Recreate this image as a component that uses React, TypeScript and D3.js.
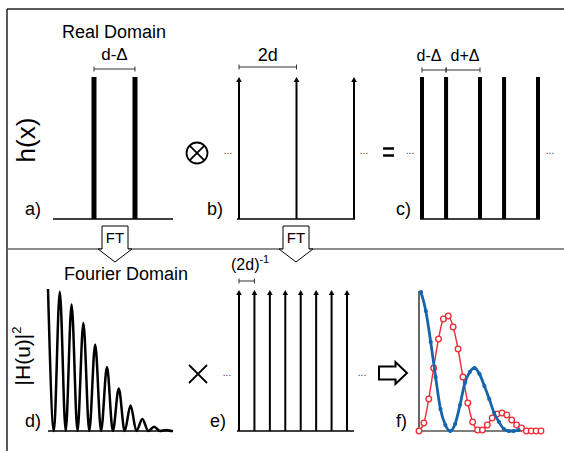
import React from 'react';
import * as d3 from 'd3';

// positions in units of d
const slitsA = [0, 0.83];
const combB = [0, 2, 4];
const latticeC = [0, 0.83, 2, 2.83, 4];
// reciprocal comb, units of (2d)^-1
const combE = [0, 1, 2, 3, 4, 5, 6, 7];
// |H(u)|^2 lobe maxima, one per lobe
const lobePeaks = [1, 0.98, 0.89, 0.76, 0.61, 0.45, 0.3, 0.18, 0.085, 0.03, 0.007];
// product intensities in f)
const blueF = [139, 120, 89, 54, 22, 6, 0, 7, 26, 48, 59, 63, 57, 45, 32, 18, 9, 2, 0, 0, 1];
const redF = [0, 8, 32, 63, 92, 112, 115, 104, 82, 54, 28, 9, 1, 1, 6, 13, 17, 18, 16, 11, 6, 3, 0, 0, 0, 0];

const FONT = 'Arial, "Liberation Sans", Helvetica, sans-serif';
const BLUE = '#1565ad';
const RED = '#ec2b34';

function Span({ x1, x2, y }: { x1: number; x2: number; y: number }) {
  return (
    <g stroke="#333" strokeWidth={1}>
      <line x1={x1} x2={x2} y1={y} y2={y} />
      <line x1={x1} x2={x1} y1={y - 2.5} y2={y + 2.5} />
      <line x1={x2} x2={x2} y1={y - 2.5} y2={y + 2.5} />
    </g>
  );
}

function Arrow({ x, top, bottom }: { x: number; top: number; bottom: number }) {
  return (
    <g>
      <line x1={x} x2={x} y1={top + 3} y2={bottom} stroke="#000" strokeWidth={2} />
      <path d={`M${x - 2.8},${top + 5}L${x},${top}L${x + 2.8},${top + 5}Z`} fill="#000" />
    </g>
  );
}

function FTArrow({ cx }: { cx: number }) {
  const p = [
    [cx - 13, 226], [cx + 13, 226], [cx + 13, 249], [cx + 17, 249],
    [cx, 262], [cx - 17, 249], [cx - 13, 249],
  ];
  return (
    <g>
      <polygon points={p.map((d) => d.join(',')).join(' ')} fill="#fff" stroke="#000" strokeWidth={1} />
      <text x={cx} y={243} textAnchor="middle" fontSize={15} fontFamily={FONT}>FT</text>
    </g>
  );
}

function Dots({ x, y }: { x: number; y: number }) {
  return (
    <text x={x} y={y} textAnchor="middle" fontSize={10} fill="#333" fontFamily={FONT}>...</text>
  );
}

export default function App() {
  const baseTop = 219;
  const baseBot = 431;

  const xa = d3.scaleLinear().domain([-0.83, 1.6]).range([53, 173]);
  const xb = d3.scaleLinear().domain([0, 4]).range([239, 354]);
  const xc = d3.scaleLinear().domain([0, 4]).range([422, 538]);
  const xe = d3.scaleLinear().domain([0, 7]).range([239, 347]);

  // panel d
  const xd = d3.scaleLinear().domain([0, 10.6]).range([48, 173]);
  const yd = d3.scaleLinear().domain([0, 1]).range([baseBot, 289]);
  const dPts: [number, number][] = [];
  lobePeaks.forEach((v, i) => {
    dPts.push([i, v]);
    dPts.push([i + 0.5, 0]);
  });
  dPts.push([10.6, 0]);
  const dLine = d3.line<[number, number]>()
    .x((d) => xd(d[0]))
    .y((d) => yd(d[1]))
    .curve(d3.curveMonotoneX);

  // panel f
  const xf = d3.scaleLinear().domain([0, 25]).range([419, 541]);
  const yf = d3.scaleLinear().domain([0, 140]).range([baseBot, 291]);
  const bluePts = blueF.map((v, i) => [i + 0.4, v] as [number, number]);
  const redPts = redF.map((v, i) => [i, v] as [number, number]);
  const fLine = d3.line<[number, number]>()
    .x((d) => xf(d[0]))
    .y((d) => yf(d[1]))
    .curve(d3.curveMonotoneX);

  return (
    <svg
      width={564}
      height={451}
      style={{ position: 'absolute', left: 0, top: 0, background: '#fff' }}
      fontFamily={FONT}
    >
      {/* frame */}
      <line x1={7} x2={564} y1={9} y2={9} stroke="#222" strokeWidth={1.5} />
      <line x1={7} x2={7} y1={9} y2={451} stroke="#222" strokeWidth={1.5} />
      <line x1={7} x2={564} y1={249} y2={249} stroke="#666" strokeWidth={1.5} />

      {/* titles */}
      <text x={114} y={38} textAnchor="middle" fontSize={18}>Real Domain</text>
      <text x={126} y={280} textAnchor="middle" fontSize={18}>Fourier Domain</text>

      <text transform="translate(35,140) rotate(-90)" textAnchor="middle" fontSize={26}>h(x)</text>
      <text transform="translate(30,356) rotate(-90)" textAnchor="middle" fontSize={21}>
        |H(u)|<tspan fontSize={13} dy={-9}>2</tspan>
      </text>

      {/* a) */}
      <line x1={xa(-0.83)} x2={xa(1.6)} y1={baseTop} y2={baseTop} stroke="#000" strokeWidth={1.5} />
      {slitsA.map((p, i) => (
        <line key={i} x1={xa(p)} x2={xa(p)} y1={77} y2={baseTop} stroke="#000" strokeWidth={5} />
      ))}
      <Span x1={xa(slitsA[0])} x2={xa(slitsA[1])} y={69} />
      <text x={(xa(slitsA[0]) + xa(slitsA[1])) / 2} y={60} textAnchor="middle" fontSize={17}>d-Δ</text>
      <text x={25} y={215} fontSize={18}>a)</text>

      {/* convolution sign */}
      <circle cx={197} cy={153} r={10.5} fill="none" stroke="#000" strokeWidth={1.8} />
      <line x1={197 - 7.4} x2={197 + 7.4} y1={153 - 7.4} y2={153 + 7.4} stroke="#000" strokeWidth={1.8} />
      <line x1={197 - 7.4} x2={197 + 7.4} y1={153 + 7.4} y2={153 - 7.4} stroke="#000" strokeWidth={1.8} />

      {/* b) */}
      <line x1={xb(0) - 2} x2={xb(4) + 1} y1={baseTop} y2={baseTop} stroke="#000" strokeWidth={1.5} />
      {combB.map((p, i) => (
        <Arrow key={i} x={xb(p)} top={77} bottom={baseTop} />
      ))}
      <Span x1={xb(0)} x2={xb(2)} y={67} />
      <text x={(xb(0) + xb(2)) / 2} y={61} textAnchor="middle" fontSize={18}>2d</text>
      <Dots x={228} y={154} />
      <Dots x={364} y={154} />
      <text x={207} y={215} fontSize={18}>b)</text>

      {/* equals */}
      <line x1={383} x2={394} y1={148.5} y2={148.5} stroke="#000" strokeWidth={2.5} />
      <line x1={383} x2={394} y1={155.5} y2={155.5} stroke="#000" strokeWidth={2.5} />

      {/* c) */}
      <line x1={420} x2={540} y1={baseTop} y2={baseTop} stroke="#000" strokeWidth={1.5} />
      {latticeC.map((p, i) => (
        <line key={i} x1={xc(p)} x2={xc(p)} y1={77} y2={baseTop} stroke="#000" strokeWidth={4} />
      ))}
      <Span x1={xc(latticeC[0])} x2={xc(latticeC[1])} y={70} />
      <Span x1={xc(latticeC[1])} x2={xc(latticeC[2])} y={70} />
      <text x={429} y={61} textAnchor="middle" fontSize={16}>d-Δ</text>
      <text x={465} y={61} textAnchor="middle" fontSize={16}>d+Δ</text>
      <Dots x={410} y={154} />
      <Dots x={550} y={154} />
      <text x={396} y={215} fontSize={18}>c)</text>

      {/* FT arrows */}
      <FTArrow cx={115} />
      <FTArrow cx={296} />

      {/* d) */}
      <line x1={xd(0)} x2={xd(10.6)} y1={baseBot} y2={baseBot} stroke="#000" strokeWidth={1.5} />
      <path d={dLine(dPts) || ''} fill="none" stroke="#000" strokeWidth={2.5} strokeLinejoin="round" />
      <text x={25} y={427} fontSize={18}>d)</text>

      {/* multiply */}
      <line x1={189} x2={207} y1={365} y2={383} stroke="#000" strokeWidth={1.8} />
      <line x1={189} x2={207} y1={383} y2={365} stroke="#000" strokeWidth={1.8} />

      {/* e) */}
      <line x1={237} x2={354} y1={baseBot} y2={baseBot} stroke="#000" strokeWidth={1.5} />
      {combE.map((p, i) => (
        <Arrow key={i} x={xe(p)} top={290} bottom={baseBot} />
      ))}
      <Span x1={xe(0)} x2={xe(1)} y={281} />
      <text x={231} y={270} fontSize={16}>
        (2d)<tspan fontSize={11} dy={-7}>-1</tspan>
      </text>
      <Dots x={227} y={376} />
      <Dots x={362} y={376} />
      <text x={210} y={427} fontSize={18}>e)</text>

      {/* hollow arrow */}
      <path
        d="M379,366.5L395.5,366.5L395.5,362L407,373L395.5,384L395.5,379.5L379,379.5Z"
        fill="#fff"
        stroke="#000"
        strokeWidth={2}
        strokeLinejoin="miter"
      />

      {/* f) */}
      <line x1={419} x2={419} y1={291} y2={baseBot} stroke="#000" strokeWidth={1.2} />
      <line x1={419} x2={522} y1={baseBot} y2={baseBot} stroke="#000" strokeWidth={1.2} />
      <path d={fLine(redPts) || ''} fill="none" stroke={RED} strokeWidth={1.4} />
      {redPts.map((d, i) => (
        <circle key={i} cx={xf(d[0])} cy={yf(d[1])} r={2.8} fill="#fff" stroke={RED} strokeWidth={1.3} />
      ))}
      <path d={fLine(bluePts) || ''} fill="none" stroke={BLUE} strokeWidth={2.8} />
      {bluePts.map((d, i) => (
        <circle key={i} cx={xf(d[0])} cy={yf(d[1])} r={2.1} fill={BLUE} />
      ))}
      <text x={396} y={427} fontSize={18}>f)</text>
    </svg>
  );
}
